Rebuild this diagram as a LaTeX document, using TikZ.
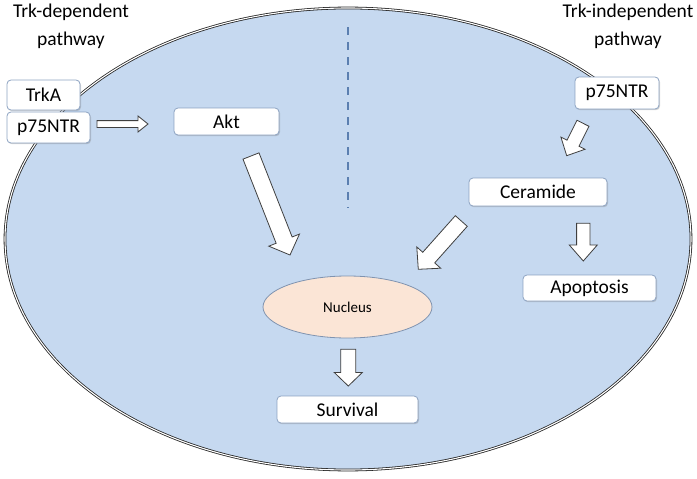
\documentclass[tikz,border=0pt]{standalone}
\usepackage{fontspec}
\setmainfont{Carlito}
\usetikzlibrary{calc,shadows,shapes.geometric}
\definecolor{cellfill}{HTML}{C6D9F0}
\definecolor{boxline}{HTML}{8DA3C2}
\definecolor{nucfill}{HTML}{FBE5D6}
\definecolor{nucline}{HTML}{7F93B0}
\definecolor{dashblue}{HTML}{5B7FB0}
\definecolor{arrline}{HTML}{3F3F3F}
\tikzset{
  labelbox/.style={draw=boxline, line width=0.8pt, fill=white, rounded corners=4pt,
    inner sep=0pt, font=\fontsize{19.5}{22}\selectfont,
    drop shadow={opacity=0.35, shadow xshift=1pt, shadow yshift=-1.2pt}},
  titletext/.style={align=center, font=\fontsize{19.5}{28}\selectfont, inner sep=0pt},
  blockarr/.style={draw=arrline, line width=0.8pt, fill=white, line join=miter}
}
\newcommand\blockarrow[5]{% start, end, half shaft, half head, head length
  \coordinate (ba-n) at ($(#2)!#5!(#1)$);
  \draw[blockarr] ($(#1)!#3!90:(#2)$) -- ($(ba-n)!#3!-90:(#1)$) -- ($(ba-n)!#4!-90:(#1)$) -- (#2)
    -- ($(ba-n)!#4!90:(#1)$) -- ($(ba-n)!#3!90:(#1)$) -- ($(#1)!#3!-90:(#2)$) -- cycle;}
\begin{document}
\begin{tikzpicture}[x=1pt, y=-1pt]
\useasboundingbox (0,0) rectangle (697,479);
% cell
\draw[fill=cellfill, draw=black!85, line width=0.8pt, double=white, double distance=1.1pt]
  (348,239) ellipse [x radius=343, y radius=231];
% titles
\node[titletext] (tdep) at (71,26) {Trk-dependent\\pathway};
\node[titletext] (tind) at (628,26) {Trk-independent\\pathway};
% dashed divider
\coordinate (dtop) at (348,27);
\coordinate (dbot) at (348,208);
\draw[dashblue, line width=2.4pt, dash pattern=on 8pt off 7pt] (dtop) -- (dbot);
% boxes
\node[labelbox, minimum width=73pt, minimum height=30pt] (trka) at (43.5,95) {TrkA};
\node[labelbox, minimum width=83pt, minimum height=31pt] (p75l) at (48.5,127.5) {p75NTR};
\node[labelbox, minimum width=105pt, minimum height=27pt] (akt) at (226.5,121.5) {Akt};
\node[labelbox, minimum width=84pt, minimum height=32pt] (p75r) at (617,93) {p75NTR};
\node[labelbox, minimum width=138pt, minimum height=28pt] (cer) at (538,192) {Ceramide};
\node[labelbox, minimum width=133pt, minimum height=26pt] (apo) at (589.5,288) {Apoptosis};
\node[draw=nucline, line width=0.8pt, fill=nucfill, ellipse, minimum width=169pt, minimum height=62pt,
  inner sep=0pt, font=\fontsize{15}{18}\selectfont] (nuc) at (347.5,307) {Nucleus};
\node[labelbox, minimum width=141pt, minimum height=27pt] (surv) at (347.5,409.5) {Survival};
% arrow endpoints
\coordinate (a1s) at (97,124);
\coordinate (a1e) at (148,124);
\coordinate (a2s) at (251,156);
\coordinate (a2e) at (290,255);
\coordinate (a3s) at (583,123.3);
\coordinate (a3e) at (566.7,155.7);
\coordinate (a4s) at (461.3,221);
\coordinate (a4e) at (418.3,269.3);
\coordinate (a5s) at (583.3,223.3);
\coordinate (a5e) at (583.3,261);
\coordinate (a6s) at (348.3,349.3);
\coordinate (a6e) at (348.3,386);
\blockarrow{a1s}{a1e}{3.4pt}{8pt}{10pt}
\blockarrow{a2s}{a2e}{8.6pt}{16.5pt}{16pt}
\blockarrow{a3s}{a3e}{6.7pt}{13.5pt}{14pt}
\blockarrow{a4s}{a4e}{8pt}{16pt}{15.7pt}
\blockarrow{a5s}{a5e}{6.7pt}{14pt}{16pt}
\blockarrow{a6s}{a6e}{7.5pt}{14pt}{13.5pt}
\end{tikzpicture}
\end{document}
